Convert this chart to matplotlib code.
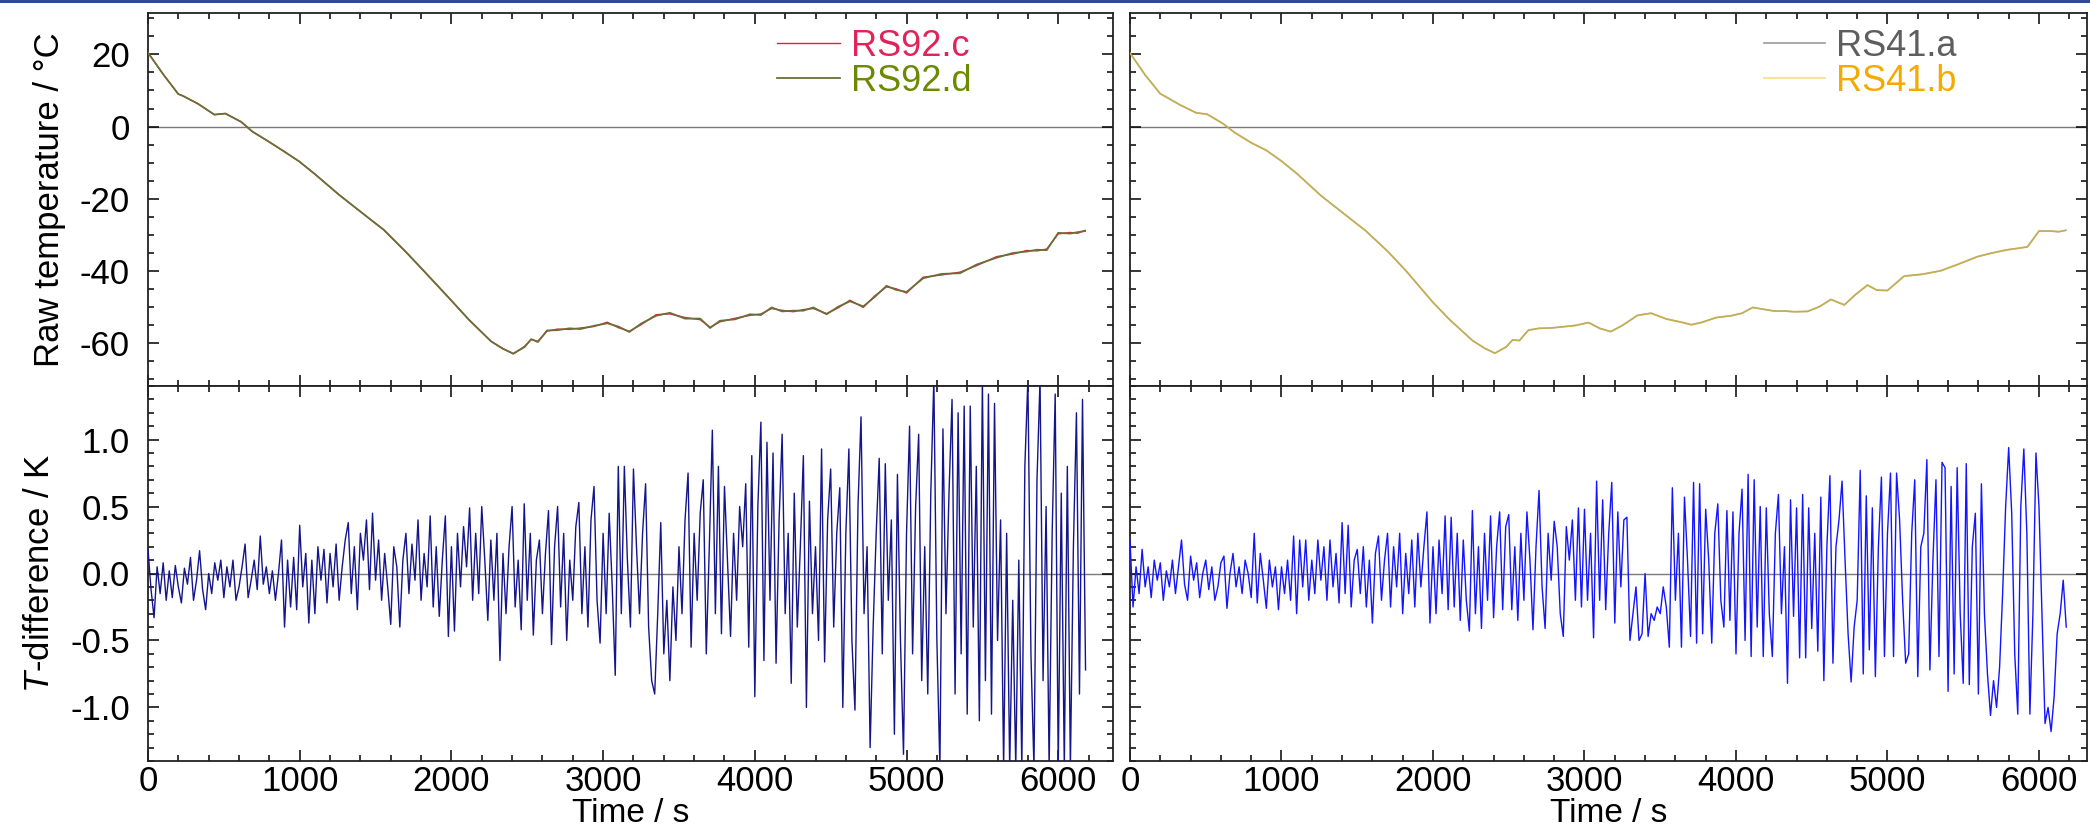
import numpy as np
import matplotlib
matplotlib.use("Agg")
import matplotlib.pyplot as plt
from matplotlib.ticker import MultipleLocator
from matplotlib.patches import Rectangle

plt.rcParams['font.family'] = ['Liberation Sans', 'DejaVu Sans']
plt.rcParams['mathtext.fontset'] = 'custom'
plt.rcParams['mathtext.it'] = 'Liberation Sans:italic'
plt.rcParams['mathtext.rm'] = 'Liberation Sans'

# ---------------- data ----------------
temp_time = [0, 100, 200, 230, 330, 437, 510, 614, 688, 800, 900, 997, 1100, 1261, 1400,
             1555, 1700, 1821, 2000, 2115, 2261, 2340, 2408, 2482, 2526, 2570, 2630, 2700,
             2780, 2850, 2940, 3027, 3100, 3173, 3250, 3350, 3440, 3540, 3640, 3705, 3770,
             3870, 3968, 4040, 4111, 4180, 4253, 4320, 4385, 4473, 4550, 4627, 4715, 4790,
             4868, 4930, 5000, 5110, 5230, 5353, 5462, 5594, 5700, 5792, 5860, 5924, 6000,
             6078, 6130, 6177]
rs92c = [20.5, 14.5, 9.0, 8.5, 6.3, 3.3, 3.6, 1.3, -1.4, -4.3, -7.0, -9.7, -13.2, -19.0, -23.6,
         -28.7, -34.8, -40.2, -48.3, -53.6, -59.6, -61.6, -63.1, -61.0, -59.1, -59.6, -56.8, -56.2,
         -56.3, -55.9, -55.5, -54.3, -55.8, -56.8, -55.0, -52.2, -52.0, -53.0, -53.6, -55.7, -54.2,
         -53.2, -52.4, -52.0, -50.5, -51.0, -51.4, -50.8, -50.5, -51.9, -50.3, -48.2, -50.2, -47.0,
         -44.5, -45.0, -46.2, -41.8, -41.2, -40.4, -38.6, -36.1, -35.4, -34.4, -34.5, -34.0, -29.8,
         -29.4, -29.6, -28.8]
rs92d = [20.5, 14.5, 9.0, 8.5, 6.3, 3.3, 3.6, 1.3, -1.4, -4.3, -7.0, -9.7, -13.2, -19.0, -23.6,
         -28.7, -34.8, -40.2, -48.3, -53.6, -59.6, -61.7, -63.0, -61.2, -59.0, -59.8, -56.6, -56.5,
         -56.0, -56.2, -55.3, -54.6, -55.5, -57.0, -54.7, -52.5, -51.7, -53.3, -53.3, -55.9, -53.9,
         -53.5, -52.1, -52.3, -50.2, -51.3, -51.1, -51.1, -50.2, -52.1, -50.0, -48.5, -49.9, -47.3,
         -44.2, -45.3, -45.9, -42.1, -40.9, -40.7, -38.3, -36.4, -35.1, -34.7, -34.2, -34.3, -29.5,
         -29.7, -29.3, -29.0]
rs41a = [20.4, 14.3, 9.1, 8.4, 6.0, 3.8, 3.4, 0.8, -1.6, -4.5, -6.6, -9.5, -13.0, -19.2, -23.8,
         -28.9, -34.6, -40.0, -48.8, -53.8, -59.4, -61.5, -62.9, -61.2, -59.2, -59.4, -56.5, -56.0,
         -55.9, -55.6, -55.2, -54.4, -56.0, -56.9, -55.2, -52.4, -51.8, -53.4, -54.3, -55.0, -54.4,
         -53.0, -52.5, -51.8, -50.2, -50.7, -51.2, -51.2, -51.4, -51.3, -50.0, -48.0, -49.5, -46.6,
         -44.0, -45.4, -45.5, -41.5, -41.0, -40.0, -38.3, -36.1, -35.0, -34.2, -33.8, -33.4, -29.0,
         -29.0, -29.2, -28.8]
rs41b = [20.4, 14.3, 9.1, 8.4, 6.0, 3.8, 3.4, 0.8, -1.6, -4.5, -6.6, -9.5, -13.0, -19.2, -23.8,
         -28.9, -34.6, -40.0, -48.8, -53.8, -59.4, -61.5, -62.9, -61.2, -59.2, -59.4, -56.5, -56.0,
         -55.9, -55.6, -55.2, -54.4, -56.0, -56.9, -55.2, -52.4, -51.8, -53.4, -54.3, -55.0, -54.4,
         -53.0, -52.5, -51.8, -50.2, -50.7, -51.2, -51.2, -51.4, -51.3, -50.0, -48.0, -49.5, -46.6,
         -44.0, -45.4, -45.5, -41.5, -41.0, -40.0, -38.3, -36.1, -35.0, -34.2, -33.8, -33.4, -29.0,
         -29.0, -29.2, -28.8]

diff_time = list(range(0, 6181, 20))
diff_rs92 = [
    # 0-480
    0.18, -0.12, -0.33, 0.05, -0.15, 0.08, -0.2, 0.02, -0.18, 0.06, -0.1, -0.22, 0.04, -0.08, 0.12,
    -0.2, -0.05, 0.17, -0.12, -0.27, 0.0, -0.15, 0.08, -0.05, 0.1,
    # 500-980
    -0.18, 0.05, -0.1, 0.1, -0.2, -0.1, 0.05, 0.22, -0.18, -0.05, 0.1, -0.12, 0.28, -0.08, 0.05,
    -0.15, 0.02, -0.2, 0.0, 0.25, -0.4, 0.1, -0.25, 0.12, -0.27,
    # 1000-1480
    0.36, -0.1, 0.15, -0.37, 0.1, -0.3, 0.2, -0.05, 0.18, -0.22, 0.15, -0.1, 0.22, -0.2, 0.05,
    0.25, 0.38, -0.15, 0.2, -0.27, 0.3, 0.1, 0.4, -0.12, 0.45,
    # 1500-1980
    -0.05, 0.25, -0.2, 0.15, -0.1, -0.38, 0.2, 0.05, -0.4, 0.1, 0.3, -0.15, 0.22, -0.05, 0.4,
    -0.2, 0.15, -0.1, 0.43, -0.25, 0.2, -0.32, 0.1, 0.43, -0.47,
    # 2000-2480
    0.2, -0.43, 0.3, -0.1, 0.35, 0.05, 0.49, -0.2, 0.3, -0.15, 0.5, 0.1, -0.35, 0.25, -0.2,
    0.3, -0.65, 0.15, -0.3, 0.2, 0.5, -0.25, 0.1, -0.42, 0.52,
    # 2500-2980
    -0.2, 0.3, -0.46, 0.1, 0.25, -0.3, 0.15, 0.47, -0.53, 0.2, 0.5, -0.25, 0.3, -0.5, 0.1,
    -0.2, 0.35, 0.53, -0.3, 0.2, -0.4, 0.4, 0.65, -0.2, -0.52,
    # 3000-3480
    0.3, -0.3, 0.45, -0.1, -0.76, 0.8, -0.3, 0.8, 0.1, -0.4, 0.78, 0.2, -0.3, 0.3, 0.67,
    -0.4, -0.8, -0.9, -0.3, 0.38, -0.6, -0.2, -0.8, -0.1, -0.5,
    # 3500-3980
    0.2, -0.3, 0.4, 0.75, -0.55, 0.3, -0.2, 0.45, 0.7, -0.6, 0.2, 1.07, -0.3, 0.8, -0.45,
    0.65, 0.1, -0.47, 0.3, -0.2, 0.5, 0.2, 0.67, -0.55, 0.88,
    # 4000-4480
    -0.92, 0.5, 1.13, -0.65, 0.98, -0.2, 0.9, -0.67, 0.4, 1.04, -0.3, 0.3, -0.82, 0.6, -0.4,
    0.2, 0.88, -1.0, 0.54, -0.3, 0.2, -0.5, 0.93, -0.66, 0.4,
    # 4500-4980
    0.78, -0.4, 0.3, 0.64, -1.0, 0.3, 0.93, -0.5, -1.02, 0.5, 1.17, -0.3, 0.2, -1.3, -0.4,
    0.3, 0.86, -0.6, 0.82, -0.2, 0.4, -1.2, 0.74, -0.5, -1.35,
    # 5000-5480
    0.3, 1.1, -0.6, 0.5, 1.04, -0.8, 0.2, -0.9, 0.6, 1.45, -0.5, -1.45, 1.08, -0.3, 0.6,
    1.3, -0.9, 1.2, -0.6, 1.25, -1.05, 1.25, -0.4, 0.8, -1.1,
    # 5500-5980
    1.45, -0.8, 1.34, -1.05, 1.27, -0.5, 0.4, -1.45, 0.3, -1.45, -0.2, -1.45, 0.1, -1.45, 0.8,
    1.45, -0.6, -1.45, 0.7, 1.45, -0.8, 0.5, -1.45, 0.3, 1.34,
    # 6000-6180
    -1.45, 0.6, -1.45, 0.8, -1.45, 0.2, 1.2, -0.9, 1.3, -0.72,
]
diff_rs41 = [
    # 0-480
    0.25, -0.25, 0.05, -0.15, 0.18, -0.1, 0.05, -0.18, 0.1, -0.05, 0.08, -0.2, 0.02, -0.1, 0.1,
    -0.15, 0.05, 0.25, -0.08, -0.2, 0.13, -0.05, 0.08, -0.18, 0.0,
    # 500-980
    0.1, -0.12, 0.05, -0.2, -0.1, 0.08, 0.13, -0.26, 0.0, 0.15, -0.1, 0.05, -0.15, 0.1, 0.0,
    -0.18, 0.3, -0.22, 0.15, -0.05, -0.26, 0.1, -0.1, 0.05, -0.27,
    # 1000-1480
    0.05, -0.15, 0.1, -0.2, 0.28, -0.3, 0.25, -0.1, 0.25, -0.2, 0.1, -0.15, 0.25, -0.05, 0.2,
    -0.2, 0.25, -0.1, 0.15, -0.22, 0.38, -0.15, 0.36, -0.25, 0.1,
    # 1500-1980
    0.18, -0.15, 0.2, -0.25, 0.1, -0.37, 0.15, 0.28, -0.2, 0.1, 0.3, -0.25, 0.2, -0.1, 0.3,
    -0.3, 0.15, -0.15, 0.25, -0.25, 0.3, -0.1, 0.2, 0.46, -0.37,
    # 2000-2480
    0.2, -0.3, 0.25, -0.15, 0.43, -0.27, 0.42, -0.25, 0.3, -0.35, 0.25, -0.2, -0.43, 0.47, -0.3,
    0.2, -0.41, 0.3, -0.2, 0.43, -0.33, 0.2, 0.46, -0.27, 0.35,
    # 2500-2980
    0.44, -0.27, 0.2, -0.35, 0.3, -0.2, 0.46, 0.1, -0.42, 0.2, 0.62, -0.1, -0.41, 0.3, -0.05,
    0.39, 0.2, -0.3, -0.47, 0.35, 0.1, 0.4, -0.2, 0.49, -0.25,
    # 3000-3480
    0.48, -0.2, 0.3, -0.48, 0.69, -0.2, 0.55, -0.27, 0.3, 0.68, -0.37, 0.46, -0.1, 0.4, 0.42,
    -0.5, -0.3, -0.1, -0.5, -0.45, 0.0, -0.47, -0.3, -0.35, -0.25,
    # 3500-3980
    -0.3, -0.1, -0.25, -0.55, 0.64, -0.2, 0.3, -0.55, 0.57, 0.1, -0.47, 0.68, -0.52, 0.67, -0.45,
    0.48, 0.1, -0.52, 0.3, 0.52, -0.2, -0.4, 0.47, -0.35, 0.46,
    # 4000-4480
    -0.6, 0.3, 0.63, -0.5, 0.74, -0.62, 0.7, -0.4, 0.5, -0.62, 0.49, -0.3, -0.62, 0.3, 0.59,
    -0.3, 0.2, -0.82, 0.55, -0.32, 0.49, -0.63, 0.59, -0.63, 0.49,
    # 4500-4980
    -0.41, 0.3, -0.58, 0.57, -0.8, 0.2, 0.73, -0.67, 0.2, 0.4, 0.69, 0.1, -0.45, -0.81, -0.4,
    -0.2, 0.77, -0.75, 0.58, -0.57, 0.49, -0.77, 0.2, 0.72, -0.62,
    # 5000-5480
    0.3, 0.75, -0.62, 0.75, 0.4, -0.2, -0.67, -0.6, 0.3, 0.7, -0.77, 0.2, 0.3, 0.85, -0.72,
    0.1, 0.7, -0.62, 0.83, 0.79, -0.88, 0.65, -0.75, 0.79, -0.3,
    # 5500-5980
    -0.82, 0.82, -0.83, 0.2, 0.45, -0.9, 0.67, -0.3, -0.75, -1.06, -0.8, -1.0, -0.7, -0.15, 0.5,
    0.94, 0.45, -0.6, -1.05, 0.5, 0.93, 0.3, -1.05, -0.3, 0.9,
    # 6000-6180
    0.5, -0.3, -1.12, -1.0, -1.18, -0.92, -0.45, -0.3, -0.05, -0.4,
]

x_ticks = [0, 1000, 2000, 3000, 4000, 5000, 6000]
temp_ticks = [20, 0, -20, -40, -60]
diff_ticks = [1.0, 0.5, 0.0, -0.5, -1.0]

# ---------------- figure ----------------
W, H = 2090, 832
fig = plt.figure(figsize=(W / 100, H / 100), dpi=100)
fig.patch.set_facecolor('white')

def frac(x0, y0, x1, y1):
    return [x0 / W, 1 - y1 / H, (x1 - x0) / W, (y1 - y0) / H]

axTL = fig.add_axes(frac(148, 13, 1113, 386))
axBL = fig.add_axes(frac(148, 386, 1113, 761))
axTR = fig.add_axes(frac(1130, 13, 2087, 386))
axBR = fig.add_axes(frac(1130, 386, 2087, 761))

FS = 25

def style(ax, xmax, ymin, ymax, ymin_step, yticks, show_ylabels):
    ax.set_xlim(0, xmax)
    ax.set_ylim(ymin, ymax)
    ax.xaxis.set_major_locator(MultipleLocator(1000))
    ax.xaxis.set_minor_locator(MultipleLocator(200))
    ax.set_yticks(yticks)
    ax.yaxis.set_minor_locator(MultipleLocator(ymin_step))
    ax.tick_params(which='both', direction='in', top=True, right=True,
                   width=1.1, colors='black', labelsize=FS)
    ax.tick_params(which='major', length=8)
    ax.tick_params(which='minor', length=4.5)
    ax.tick_params(axis='y', pad=13)
    ax.tick_params(axis='x', pad=3)
    for s in ax.spines.values():
        s.set_linewidth(1.3)
        s.set_color('#222222')
    if not show_ylabels:
        ax.tick_params(axis='y', labelleft=False)
    ax.axhline(0, color='#7a7a7a', lw=1.0, zorder=1)

style(axTL, 6361, -72, 31.5, 5, temp_ticks, True)
style(axTR, 6317, -72, 31.5, 5, temp_ticks, False)
style(axBL, 6361, -1.4, 1.4, 0.1, diff_ticks, True)
style(axBR, 6317, -1.4, 1.4, 0.1, diff_ticks, False)

for ax in (axTL, axTR):
    ax.tick_params(axis='x', labelbottom=False)
    ax.set_yticklabels([str(v) for v in temp_ticks])
for ax in (axBL, axBR):
    ax.set_xticks(x_ticks)
    ax.set_xticklabels([str(v) for v in x_ticks])
    ax.set_xlabel('Time / s', fontsize=24, labelpad=0)
axBL.set_yticklabels(['%.1f' % v for v in diff_ticks])

# top-left temperatures
l1, = axTL.plot(temp_time, rs92c, color='#e0204a', lw=1.0, zorder=3, label='RS92.c')
l2, = axTL.plot(temp_time, rs92d, color='#6a7035', lw=1.3, zorder=4, label='RS92.d')
leg = axTL.legend(handles=[l1, l2], loc='upper left', bbox_to_anchor=(0.652, 0.958),
                  frameon=False, fontsize=26, handlelength=1.75, handletextpad=0.3,
                  labelspacing=0.0, borderpad=0, borderaxespad=0)
for t, c in zip(leg.get_texts(), ['#e0245a', '#6b8a00']):
    t.set_color(c)
axTL.set_ylabel('Raw temperature / °C', fontsize=FS, labelpad=10)

# top-right temperatures
l3, = axTR.plot(temp_time, rs41a, color='#9a9a9a', lw=1.2, zorder=3, label='RS41.a')
l4, = axTR.plot(temp_time, rs41b, color='#f0c000', lw=1.2, alpha=0.5, zorder=4, label='RS41.b')
leg2 = axTR.legend(handles=[l3, l4], loc='upper left', bbox_to_anchor=(0.662, 0.958),
                   frameon=False, fontsize=26, handlelength=1.7, handletextpad=0.3,
                   labelspacing=0.0, borderpad=0, borderaxespad=0)
for t, c in zip(leg2.get_texts(), ['#5e5e5e', '#f5aa00']):
    t.set_color(c)

# differences
axBL.plot(diff_time, diff_rs92, color='#14148c', lw=1.0, zorder=3)
axBR.plot(diff_time, diff_rs41, color='#1414ff', lw=1.0, zorder=3)
axBL.set_ylabel(r'$\it{T}$-difference / K', fontsize=FS, labelpad=10)

# slide border strip at top
fig.patches.append(Rectangle((0, 1 - 3 / H), 1, 3 / H, transform=fig.transFigure,
                             facecolor='#2d4c8f', edgecolor='none'))

fig.savefig('out.png', dpi=100)
